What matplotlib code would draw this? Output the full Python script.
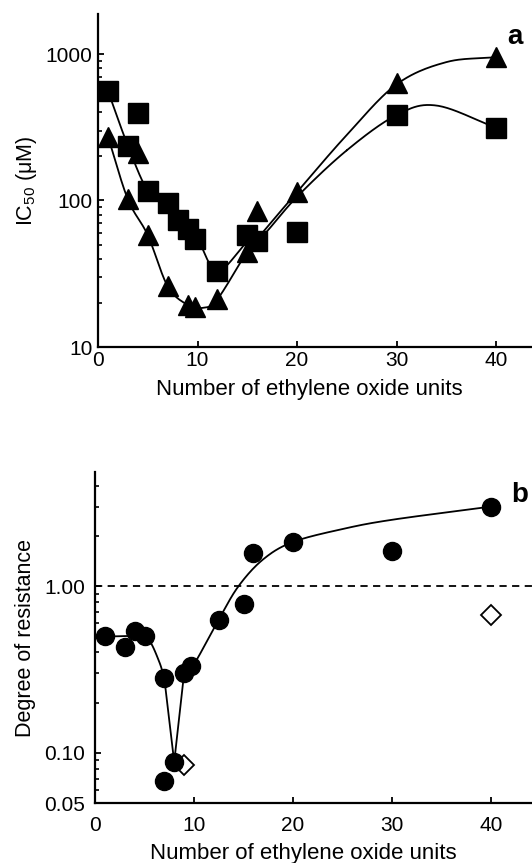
import numpy as np
import matplotlib
matplotlib.use("Agg")
import matplotlib.pyplot as plt
from matplotlib.ticker import FixedLocator, FixedFormatter, NullFormatter

plt.rcParams['font.family'] = ['Liberation Sans', 'DejaVu Sans']
plt.rcParams['mathtext.fontset'] = 'custom'
plt.rcParams['mathtext.rm'] = 'Liberation Sans'
plt.rcParams['mathtext.it'] = 'Liberation Sans:italic'

# panel a: IC50 (uM) vs number of ethylene oxide units
sq_x = [1, 3, 4, 5, 7, 8, 9, 9.7, 12, 15, 16, 20, 30, 40]
sq_y = [560, 237, 394, 117, 96, 74, 64, 55, 33, 58, 53, 61, 383, 314]
tri_x = [1, 3, 4, 5, 7, 9, 9.7, 12, 15, 16, 20, 30, 40]
tri_y = [273, 102, 210, 58, 26, 19.4, 18.7, 21.2, 44.8, 85, 114, 630, 950]

# hand-drawn fit lines (panel a)
sq_fit_x = [1, 3, 5, 7, 8, 9, 10, 12, 15, 16.5, 20, 25, 30, 34, 40]
sq_fit_y = [560, 237, 117, 96, 74, 64, 55, 33, 52, 57, 106, 220, 383, 445, 314]
tri_fit_x = [1, 3, 5, 7, 9, 10.5, 12, 15, 16.5, 20, 25, 30, 35, 40]
tri_fit_y = [273, 102, 58, 26, 19.4, 18.5, 21.2, 44.8, 60, 114, 280, 620, 880, 950]

# panel b: degree of resistance
circ_x = [1, 3, 4, 5, 7, 7, 8, 9, 9.7, 12.5, 15, 16, 20, 30, 40]
circ_y = [0.50, 0.43, 0.54, 0.50, 0.28, 0.068, 0.088, 0.30, 0.33, 0.63, 0.78, 1.59, 1.84, 1.62, 3.0]
dia_x = [9, 40]
dia_y = [0.085, 0.67]
fit_b_x = [0.6, 2, 4.5, 5.5, 6.5, 7, 8, 9, 10, 12.5, 14.5, 17, 20, 25, 30, 40]
fit_b_y = [0.50, 0.50, 0.50, 0.47, 0.35, 0.28, 0.088, 0.30, 0.34, 0.63, 1.0, 1.45, 1.84, 2.2, 2.5, 3.0]


def catmull(xs, ys, n=25):
    # smooth curve through points, in log-y space
    x = np.asarray(xs, float)
    y = np.log10(np.asarray(ys, float))
    px = np.concatenate([[2 * x[0] - x[1]], x, [2 * x[-1] - x[-2]]])
    py = np.concatenate([[2 * y[0] - y[1]], y, [2 * y[-1] - y[-2]]])
    outx, outy = [], []
    t = np.linspace(0, 1, n)
    for i in range(1, len(px) - 2):
        for arr, out in ((px, outx), (py, outy)):
            p0, p1, p2, p3 = arr[i - 1], arr[i], arr[i + 1], arr[i + 2]
            out.extend(0.5 * ((2 * p1) + (-p0 + p2) * t
                              + (2 * p0 - 5 * p1 + 4 * p2 - p3) * t ** 2
                              + (-p0 + 3 * p1 - 3 * p2 + p3) * t ** 3))
    return np.array(outx), 10 ** np.array(outy)


fig = plt.figure(figsize=(5.32, 8.63), dpi=100)

# ---- panel a ----
ax1 = fig.add_axes([98 / 532, 1 - 347 / 863, 434 / 532, 333 / 863])
ax1.set_yscale('log')
ax1.set_xlim(0, 434 / 9.95)
ax1.set_ylim(10, 10 ** (3 + 40 / 146.5))

cx, cy = catmull(tri_fit_x, tri_fit_y)
ax1.plot(cx, cy, color='black', lw=1.3, zorder=1)
cx, cy = catmull(sq_fit_x, sq_fit_y)
ax1.plot(cx, cy, color='black', lw=1.3, zorder=1)
ax1.plot(sq_x, sq_y, 's', color='black', ms=14, ls='none', zorder=3)
ax1.plot(tri_x, tri_y, '^', color='black', ms=14, ls='none', zorder=3)

ax1.yaxis.set_major_locator(FixedLocator([10, 100, 1000]))
ax1.yaxis.set_major_formatter(FixedFormatter(['10', '100', '1000']))
ax1.yaxis.set_minor_locator(FixedLocator([k * 10 ** e for e in (1, 2) for k in range(2, 10)]))
ax1.yaxis.set_minor_formatter(NullFormatter())
ax1.set_xticks([0, 10, 20, 30, 40])
ax1.tick_params(axis='both', which='major', direction='in', length=4, width=1.3,
                labelsize=15, pad=4)
ax1.tick_params(axis='y', which='minor', direction='in', length=3, width=1.2)
ax1.tick_params(axis='x', pad=3)
ax1.set_ylabel('IC$_{50}$ (\u03bcM)', fontsize=15.5)
ax1.yaxis.set_label_coords(-0.135, 0.5)
ax1.set_xlabel('Number of ethylene oxide units', fontsize=16)
ax1.xaxis.set_label_coords(0.488, -0.095)
for s in ('top', 'right'):
    ax1.spines[s].set_visible(False)
for s in ('left', 'bottom'):
    ax1.spines[s].set_linewidth(1.6)
fig.text(515 / 532, 1 - 37 / 863, 'a', fontsize=20, fontweight='bold', ha='center', va='center')

# ---- panel b ----
ax2 = fig.add_axes([95 / 532, 1 - 803 / 863, 437 / 532, 331 / 863])
ax2.set_yscale('log')
ax2.set_xlim(0, 437 / 9.9)
ax2.set_ylim(0.05, 10 ** (np.log10(0.05) + 331 / 166.7))

ax2.axhline(1.0, color='black', lw=1.3, ls=(0, (4, 3)), zorder=1)
i7 = fit_b_x.index(7)
i9 = fit_b_x.index(9)
cx, cy = catmull(fit_b_x[:i7 + 1], fit_b_y[:i7 + 1])
ax2.plot(cx, cy, color='black', lw=1.3, zorder=1)
ax2.plot(fit_b_x[i7:i9 + 1], fit_b_y[i7:i9 + 1], color='black', lw=1.3, zorder=1)
cx, cy = catmull(fit_b_x[i9:], fit_b_y[i9:])
ax2.plot(cx, cy, color='black', lw=1.3, zorder=1)
ax2.plot(dia_x, dia_y, 'D', mfc='white', mec='black', mew=1.3, ms=10, ls='none', zorder=2)
ax2.plot(circ_x, circ_y, 'o', color='black', ms=13, ls='none', zorder=3)

ax2.yaxis.set_major_locator(FixedLocator([0.05, 0.1, 1.0]))
ax2.yaxis.set_major_formatter(FixedFormatter(['0.05', '0.10', '1.00']))
ax2.yaxis.set_minor_locator(FixedLocator([0.06, 0.07, 0.08, 0.09]
                                         + [k / 10 for k in range(2, 10)] + [2, 3, 4]))
ax2.yaxis.set_minor_formatter(NullFormatter())
ax2.set_xticks([0, 10, 20, 30, 40])
ax2.tick_params(axis='both', which='major', direction='in', length=4, width=1.3,
                labelsize=15, pad=7)
ax2.tick_params(axis='y', which='minor', direction='in', length=3, width=1.2)
ax2.tick_params(axis='x', pad=9)
ax2.set_ylabel('Degree of resistance', fontsize=15.5)
ax2.yaxis.set_label_coords(-0.135, 0.5)
ax2.set_xlabel('Number of ethylene oxide units', fontsize=16)
ax2.xaxis.set_label_coords(0.476, -0.122)
for s in ('top', 'right'):
    ax2.spines[s].set_visible(False)
for s in ('left', 'bottom'):
    ax2.spines[s].set_linewidth(1.6)
fig.text(520 / 532, 1 - 495 / 863, 'b', fontsize=20, fontweight='bold', ha='center', va='center')

fig.savefig('out.png', dpi=100)
